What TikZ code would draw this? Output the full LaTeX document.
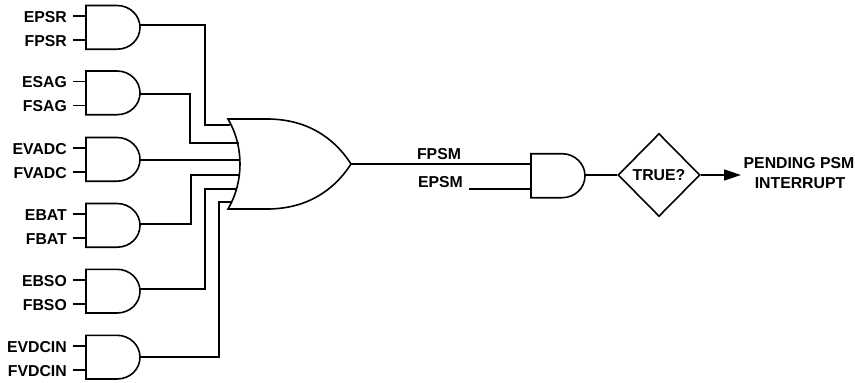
\documentclass[tikz,border=0pt]{standalone}
\usepackage{fontspec}
\setmainfont{Liberation Sans}
\usetikzlibrary{shapes.geometric,arrows.meta}
\tikzset{
  wire/.style={line width=1.6pt,line join=miter},
  gate/.style={line width=1.6pt,line join=miter},
  lab/.style={font=\fontsize{15.8}{18}\selectfont\bfseries,inner ysep=0pt,inner xsep=0pt},
  sig/.style={lab,anchor=east,inner xsep=6pt},
  tri/.style={-{Triangle[length=17pt,width=11pt]}}
}
% name, top, output y, upper label, lower label
\newcommand{\AndGate}[5]{%
  \coordinate (#1a) at (86,#2+10.5);
  \coordinate (#1b) at (86,#2+34.5);
  \coordinate (#1o) at (140,#3);
  \draw[gate] (117,#2) .. controls (130,#2) and (140,#2+10) .. (140,#2+21.85)
    .. controls (140,#2+34) and (130,#2+43.7) .. (117,#2+43.7)
    -- (86,#2+43.7) -- (86,#2) -- cycle;
  \node[sig] (#1la) at (73,#2+11.5) {#4};
  \node[sig] (#1lb) at (73,#2+35.3) {#5};
  \draw[wire] (#1la.east |- #1a) -- (#1a);
  \draw[wire] (#1lb.east |- #1b) -- (#1b);
}
\begin{document}
\begin{tikzpicture}[x=1pt,y=-1pt]
\path[use as bounding box] (0,0) rectangle (855,383);
\AndGate{g1}{5.5}{25}{EPSR}{FPSR}
\AndGate{g2}{71}{94}{ESAG}{FSAG}
\AndGate{g3}{137.5}{160}{EVADC}{FVADC}
\AndGate{g4}{203.5}{224}{EBAT}{FBAT}
\AndGate{g5}{269.3}{289}{EBSO}{FBSO}
\AndGate{g6}{335.3}{357}{EVDCIN}{FVDCIN}
% OR gate inputs and output
\coordinate (or1) at (230,125);
\coordinate (or2) at (238.5,143);
\coordinate (or3) at (240,160);
\coordinate (or4) at (239,175);
\coordinate (or5) at (236.5,189);
\coordinate (or6) at (231.5,202);
\coordinate (oro) at (351,164);
\draw[gate] (228,119) -- (267,119) .. controls (305,119) and (333,136) .. (oro)
  .. controls (333,192) and (305,209) .. (267,209) -- (228,209)
  .. controls (244,182) and (244,146) .. cycle;
% wires into OR
\draw[wire] (g1o) -- (205,25) -- (205,125) -- (or1);
\draw[wire] (g2o) -- (190,94) -- (190,143) -- (or2);
\draw[wire] (g3o) -- (or3);
\draw[wire] (g4o) -- (191,224) -- (191,175) -- (or4);
\draw[wire] (g5o) -- (205,289) -- (205,189) -- (or5);
\draw[wire] (g6o) -- (219,357) -- (219,202) -- (or6);
% output AND gate
\coordinate (fa) at (531,164);
\coordinate (fb) at (531,189);
\coordinate (fo) at (585,175);
\draw[gate] (562,153.7) .. controls (575,153.7) and (585,164) .. (585,175.7)
  .. controls (585,188) and (575,197.7) .. (562,197.7)
  -- (531,197.7) -- (531,153.7) -- cycle;
\draw[wire] (oro) -- (fa);
\node[lab] (fpsm) at (439,154) {FPSM};
\node[sig] (epsm) at (469,182) {EPSM};
\draw[wire] (epsm.east |- fb) -- (fb);
% decision and result
\node[diamond,draw,gate,minimum width=82pt,minimum height=83pt,inner sep=0pt,lab] (true) at (659,175) {TRUE?};
\draw[wire] (fo) -- (true.west);
\coordinate (pend) at (741,175);
\draw[wire,tri] (true.east) -- (pend);
\node[lab] (pendA) at (799,163) {PENDING PSM};
\node[lab] (pendB) at (800,183) {INTERRUPT};
\end{tikzpicture}
\end{document}
